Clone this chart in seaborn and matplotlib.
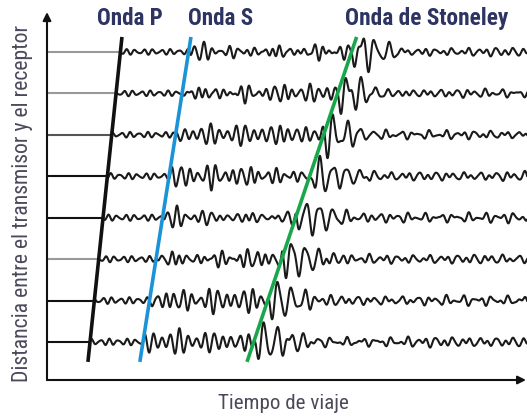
import numpy as np
import pandas as pd
import matplotlib
matplotlib.use("Agg")
import matplotlib.pyplot as plt
from matplotlib import font_manager
import seaborn as sns

# Receiver positions (trace index, bottom = nearest) and picked arrival times
distances = [1, 2, 3, 4, 5, 6, 7, 8]
p_arrival = [43.0, 47.4, 51.7, 56.0, 60.4, 64.7, 69.1, 73.4]
s_arrival = [96.0, 102.5, 109.0, 115.5, 122.1, 128.6, 135.1, 141.6]
st_arrival = [206.7, 220.7, 234.7, 248.7, 262.6, 276.6, 290.6, 304.6]

# Amplitudes of each wave packet per trace (in trace-spacing units)
p_amp = [0.07, 0.07, 0.065, 0.065, 0.065, 0.06, 0.06, 0.06]
s_amp = [0.25, 0.25, 0.24, 0.24, 0.23, 0.23, 0.22, 0.22]
st_amp = [0.42, 0.41, 0.40, 0.39, 0.38, 0.37, 0.36, 0.34]
tail_amp = [0.055, 0.055, 0.05, 0.05, 0.05, 0.05, 0.045, 0.045]
phase = [0.3, 1.7, 2.9, 4.1, 5.4, 0.9, 2.2, 3.6]

# Reference line colours (pre-arrival baseline of each trace, bottom to top)
base_colors = ["#111111", "#111111", "#999999", "#111111",
               "#111111", "#555555", "#999999", "#999999"]

labels = ["Onda P", "Onda S", "Onda de Stoneley"]
label_pos = [83, 174, 380]
label_width = [66, 65, 163]
arrival_colors = ["#111111", "#1b93d7", "#18a84b"]
x_label = "Tiempo de viaje"
y_label = "Distancia entre el transmisor y el receptor"

t = np.arange(0, 480.5, 0.25)


def seismogram(tp, ts, tst, ap, as_, ast, atail, ph):
    y = np.zeros_like(t)
    # P packet: small high-frequency wiggle
    tt = t - tp
    m = tt >= 0
    y += np.where(m, ap * (np.sin(2 * np.pi * tt / 8.8 + ph)
                           + 0.4 * np.sin(2 * np.pi * tt / 6.1 + 2 * ph)) / 1.2, 0)
    # S packet and coda
    tt = t - ts
    m = tt >= 0
    tc = np.clip(tt, 0, None)
    env = as_ * (1 - np.exp(-tc / 2.0)) * (0.8 + 0.2 * np.exp(-tc / 30))
    env *= 0.8 + 0.3 * np.cos(2 * np.pi * tc / 37 + ph)
    after = np.clip(t - tst, 0, None)
    env *= 0.05 + 0.95 * np.exp(-after / 14)
    sig = (np.sin(2 * np.pi * tt / 8.6 + ph)
           + 0.45 * np.sin(2 * np.pi * tt / 12.1 + 1.3 * ph + 1)
           + 0.3 * np.sin(2 * np.pi * tt / 6.2 + 0.7 * ph + 2)) / 1.35
    y += np.where(m, env * sig, 0)
    # Stoneley packet: a few large low-frequency cycles
    tt = t - tst
    m = tt >= 0
    tc = np.clip(tt, 0, None)
    env = ast * (1 - np.exp(-tc / 2.0)) * np.exp(-(tc / 42) ** 2)
    sig = -np.sin(2 * np.pi * tc / 13.5) + 0.35 * np.sin(2 * np.pi * tc / 7.8 + ph)
    y += np.where(m, env * sig, 0)
    # long low-amplitude tail
    tail_env = atail * (1 - np.exp(-tc / 45))
    y += np.where(m, tail_env * (np.sin(2 * np.pi * tc / 15.0 + ph)
                                 + 0.25 * np.sin(2 * np.pi * tc / 9.5 + 2 * ph)), 0)
    return y


rows = []
for d, tp, ts, tst, ap, as_, ast, atl, ph in zip(distances, p_arrival, s_arrival, st_arrival,
                                                 p_amp, s_amp, st_amp, tail_amp, phase):
    w = seismogram(tp, ts, tst, ap, as_, ast, atl, ph)
    keep = t >= tp
    rows.append(pd.DataFrame({"tiempo": t[keep], "amplitud": d + w[keep], "traza": d}))
df = pd.concat(rows, ignore_index=True)

sns.set_theme(style="white")
installed = {f.name for f in font_manager.fontManager.ttflist}
narrow = [f for f in ["Roboto Condensed", "Liberation Sans Narrow", "Open Sans Condensed",
                      "Roboto", "Liberation Sans"] if f in installed]
plt.rcParams["font.family"] = narrow + ["DejaVu Sans"]

fig = plt.figure(figsize=(5.27, 4.19), dpi=100)
ax = fig.add_axes([47 / 527, 39 / 419, 480 / 527, 365 / 419])
ax.set_xlim(0, 480)
ax.set_ylim(0.083, 8.89)

# pre-arrival baselines from the axis to the P arrival
for d, tp, c in zip(distances, p_arrival, base_colors):
    ax.hlines(d, 0, tp, color=c, lw=1.5, zorder=2)

sns.lineplot(data=df, x="tiempo", y="amplitud", hue="traza", units="traza",
             estimator=None, palette=["#1a1a1a"] * len(distances), legend=False,
             lw=1.5, ax=ax, zorder=3, sort=False)

# moveout lines fitted through the picked arrivals
d_ext = np.array([0.52, 8.36])
for arr, c in zip([p_arrival, s_arrival, st_arrival], arrival_colors):
    k, b = np.polyfit(distances, arr, 1)
    ax.plot(k * d_ext + b, d_ext, color=c, lw=2.6, solid_capstyle="butt", zorder=4)

texts = []
for lab, x, wpx in zip(labels, label_pos, label_width):
    tx = ax.text(x, 8.81, lab, ha="center", va="center", fontsize=14,
                 fontweight="bold", fontstretch="condensed", color="#2d3461", clip_on=False)
    texts.append((tx, wpx, False))

for s in ax.spines.values():
    s.set_visible(False)
ax.set_xticks([])
ax.set_yticks([])
ax.set_xlabel("")
ax.set_ylabel("")

ax.annotate("", xy=(0, 8.96), xytext=(0, 0.083), annotation_clip=False,
            arrowprops=dict(arrowstyle="-|>", color="#111111", lw=1.5, mutation_scale=12,
                            shrinkA=0, shrinkB=0))
ax.annotate("", xy=(479, 0.083), xytext=(0, 0.083), annotation_clip=False,
            arrowprops=dict(arrowstyle="-|>", color="#111111", lw=1.5, mutation_scale=12,
                            shrinkA=0, shrinkB=0))

xl = fig.text(283 / 527, 1 - 403 / 419, x_label, ha="center", va="center",
              fontsize=13, fontstretch="condensed", color="#4a4a5c")
yl = fig.text(23 / 527, 1 - 203 / 419, y_label, ha="center", va="center", rotation=90,
              fontsize=13, fontstretch="condensed", color="#4a4a5c")
texts += [(xl, 130, False), (yl, 358, True)]

# size each label so that it spans its intended length
renderer = fig.canvas.get_renderer()
for _ in range(2):
    for tx, target, vertical in texts:
        bb = tx.get_window_extent(renderer)
        span = bb.height if vertical else bb.width
        tx.set_fontsize(tx.get_fontsize() * target / span)

fig.savefig("out.png", dpi=100)
